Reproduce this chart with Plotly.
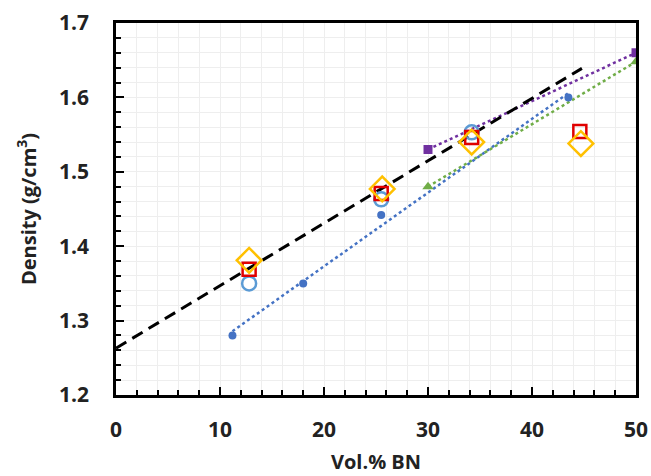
import numpy as np
import plotly.graph_objects as go

# Filled blue circles with dotted trend line
blue_x = [11.2, 18.0, 25.5, 43.5]
blue_y = [1.28, 1.35, 1.442, 1.60]

# Purple squares
purple_x = [30, 50]
purple_y = [1.53, 1.66]

# Green triangles
green_x = [30, 50]
green_y = [1.48, 1.648]

# Black dashed (rule of mixtures)
rom_x = [0, 44.8]
rom_y = [1.263, 1.639]

# Open markers
circ_x = [12.8, 25.5, 34.2]
circ_y = [1.35, 1.463, 1.553]

sq_x = [12.8, 25.5, 34.2, 44.6]
sq_y = [1.369, 1.471, 1.546, 1.554]

dia_x = [12.8, 25.6, 34.2, 44.7]
dia_y = [1.381, 1.477, 1.54, 1.538]

x_ticks = [0, 10, 20, 30, 40, 50]
y_ticks = [1.2, 1.3, 1.4, 1.5, 1.6, 1.7]

fit = np.polyfit(blue_x, blue_y, 1)
fit_x = [min(blue_x), max(blue_x)]
fit_y = list(np.polyval(fit, fit_x))

fig = go.Figure()

fig.add_trace(go.Scatter(x=fit_x, y=fit_y, mode="lines",
                         line=dict(color="#4472C4", width=2.5, dash="dot"), showlegend=False))
fig.add_trace(go.Scatter(x=purple_x, y=purple_y, mode="lines",
                         line=dict(color="#7030A0", width=2.5, dash="dot"), showlegend=False))
fig.add_trace(go.Scatter(x=green_x, y=green_y, mode="lines",
                         line=dict(color="#70AD47", width=2.5, dash="dot"), showlegend=False))
fig.add_trace(go.Scatter(x=rom_x, y=rom_y, mode="lines",
                         line=dict(color="black", width=3, dash="12px,7px"), showlegend=False))

fig.add_trace(go.Scatter(x=blue_x, y=blue_y, mode="markers",
                         marker=dict(symbol="circle", size=8, color="#4472C4"), showlegend=False))
fig.add_trace(go.Scatter(x=purple_x, y=purple_y, mode="markers",
                         marker=dict(symbol="square", size=9, color="#7030A0"), showlegend=False))
fig.add_trace(go.Scatter(x=green_x, y=green_y, mode="markers",
                         marker=dict(symbol="triangle-up", size=10, color="#70AD47"), showlegend=False))

fig.add_trace(go.Scatter(x=circ_x, y=circ_y, mode="markers",
                         marker=dict(symbol="circle-open", size=14, color="#5B9BD5", line=dict(width=2.5)),
                         showlegend=False))
fig.add_trace(go.Scatter(x=sq_x, y=sq_y, mode="markers",
                         marker=dict(symbol="square-open", size=13, color="#E00000", line=dict(width=2.5)),
                         showlegend=False))
fig.add_trace(go.Scatter(x=dia_x, y=dia_y, mode="markers",
                         marker=dict(symbol="diamond-open", size=19, color="#FFC000", line=dict(width=2.5)),
                         showlegend=False))

font_fam = "Open Sans, Noto Sans, sans-serif"
fig.update_layout(
    width=651, height=476,
    margin=dict(l=116, r=15, t=23, b=81),
    plot_bgcolor="white", paper_bgcolor="white",
    font=dict(family=font_fam, color="#222222"),
)
fig.update_xaxes(
    range=[0, 50], tickvals=x_ticks, ticktext=[str(v) for v in x_ticks],
    automargin=False,
    ticks="inside", ticklen=8, tickwidth=2, tickcolor="black",
    showline=True, linecolor="black", linewidth=2.5, mirror=True,
    showgrid=True, gridcolor="#eeeeee", gridwidth=1, zeroline=False,
    minor=dict(dtick=2, ticks="inside", ticklen=5, tickwidth=1.5, tickcolor="black",
               showgrid=True, gridcolor="#eeeeee", gridwidth=1),
    tickfont=dict(size=21, family=font_fam, weight="bold"),
    ticklabelstandoff=14,
    title=dict(text="<b>Vol.% BN</b>", font=dict(size=20, family=font_fam), standoff=14),
)
fig.update_yaxes(
    range=[1.2, 1.7], tickvals=y_ticks, ticktext=["%.1f" % v for v in y_ticks],
    automargin=False,
    ticks="inside", ticklen=8, tickwidth=2, tickcolor="black",
    showline=True, linecolor="black", linewidth=2.5, mirror=True,
    showgrid=True, gridcolor="#eeeeee", gridwidth=1, zeroline=False,
    minor=dict(dtick=0.02, ticks="inside", ticklen=5, tickwidth=1.5, tickcolor="black",
               showgrid=True, gridcolor="#eeeeee", gridwidth=1),
    tickfont=dict(size=21, family=font_fam, weight="bold"),
    ticklabelstandoff=20,
    title=dict(text="<b>Density (g/cm<sup>3</sup>)</b>", font=dict(size=20, family=font_fam), standoff=18),
)

fig.write_html("out.html")
